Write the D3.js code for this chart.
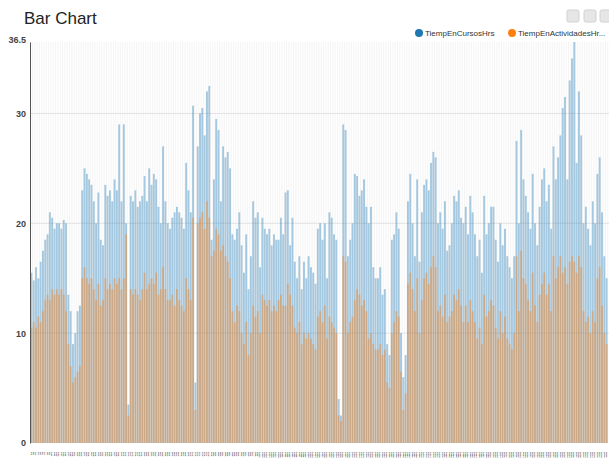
<!DOCTYPE html>
<html>
<head>
<meta charset="utf-8">
<script src="https://cdn.jsdelivr.net/npm/d3@7"></script>
<style>
  body { margin: 0; background: #fff; font-family: "Liberation Sans", Arial, sans-serif; }
</style>
</head>
<body>
<div class="chart-container"></div>
<script>
// values, 10 bars per row
const cursosHrs = [
  15.5, 14.8, 16, 15, 16.5, 17.5, 18.5, 19, 21, 20.5,
  19.5, 20, 20, 19.5, 20.3, 20, 13.5, 12, 9, 10,
  12, 12.5, 23, 25, 24.5, 24, 23.5, 22, 20, 22.8,
  18.5, 18, 23.5, 22.5, 23, 22, 24, 23, 29, 22,
  29, 20, 3.5, 22.5, 22, 23, 21.5, 22, 22.5, 24.3,
  22, 25, 23.5, 24.5, 24, 21.5, 20, 27, 22, 20,
  19.5, 20.5, 21, 21.5, 21, 20.5, 19.5, 25.5, 23, 21,
  30.7, 5.5, 27, 30, 30.5, 28, 32, 32.5, 18.5, 24,
  29.5, 28.5, 22, 27, 26, 26.5, 25, 19, 18.5, 19.5,
  21, 18, 15.5, 19, 14, 17, 22, 20.5, 21, 16,
  20.5, 19.5, 19, 19.5, 18, 19, 18.5, 18.5, 20.5, 19,
  22.8, 23, 18, 20.5, 16.5, 15, 17, 14, 16.5, 15,
  17, 16, 15.5, 14.5, 19.5, 20, 18.5, 20, 15, 21,
  20.5, 19, 18.5, 4, 2.5, 29, 28.5, 17, 18.5, 20,
  24.5, 24.3, 22.5, 23, 24, 21.5, 20, 21.5, 16, 15,
  15, 16, 13.5, 14, 9, 8, 18.5, 19, 21, 19.5,
  10, 6, 8, 22, 24.5, 20, 17, 24, 16.5, 21,
  23.5, 24, 23, 25.5, 26.5, 26, 20, 21, 19.5, 22,
  17.5, 18, 20, 22.5, 22, 23, 20.5, 20, 21.5, 19,
  22.5, 21, 19, 17, 18.5, 15.5, 22.5, 19, 20, 21.5,
  21.5, 18.5, 16.5, 20, 18, 19.5, 17, 16, 15, 17,
  27.5, 20, 28.5, 24, 22.5, 21, 19.5, 24.5, 20, 18,
  21.5, 24, 25, 22, 23.5, 19.5, 27, 24, 26, 28,
  30.5, 31.5, 24, 33, 35, 36.5, 25.5, 32, 28, 20,
  21.5, 19.5, 18, 22, 20, 24.5, 26, 21, 17, 15
];

const actividadesHrs = [
  10.5, 11, 10.5, 11.5, 11, 12, 13, 13.5, 13, 14,
  13.5, 14, 13.5, 14, 13.5, 12, 9, 7, 5.5, 6,
  6.5, 7, 15, 16, 15, 14.5, 15, 14, 13, 14.5,
  12.5, 13, 15, 14, 14.5, 14, 15, 14.5, 15, 14,
  15, 19, 2.5, 14, 13.5, 14, 13.5, 13, 14, 15.5,
  14, 14.5, 15, 14.5, 15.5, 13.5, 14, 16, 14, 13,
  13, 13.5, 12.5, 14, 13, 12.5, 12, 15, 14, 13,
  20.5, 3, 20, 20.5, 21, 19.5, 22, 20.5, 17, 17.5,
  19.5, 19, 17.5, 18, 17, 16.5, 15, 12, 11, 12.5,
  12, 10, 9, 11, 8, 10, 12.5, 11.5, 12, 10,
  13.5, 13, 12.5, 13, 12, 12.5, 12, 13, 13.5, 12.5,
  12.5, 14.5, 13.5, 12.5, 10.5, 10, 11, 9, 10, 9.5,
  10, 9.5, 9, 8.5, 11.5, 12, 11, 12.5, 9.5, 11.5,
  11, 10.5, 10, 2.5, 2, 17, 16.5, 10, 11, 11.5,
  13, 14, 13.5, 12.5, 13, 12, 9.5, 10, 9, 8.5,
  8.5, 9, 8, 8.5, 5.5, 5, 10, 11, 12, 11.5,
  6.5, 3, 4.5, 14.5, 15.5, 14, 12, 15, 10, 13,
  15, 15.5, 14.5, 16, 17, 16, 12, 12.5, 11.5, 13.5,
  11, 11.5, 12, 13.5, 13, 14, 12.5, 11, 12.5, 11,
  13, 12, 11, 9.5, 10.5, 9, 13.5, 11.5, 12, 13,
  12.5, 10.5, 9.5, 12, 10, 11.5, 9.5, 9, 8.5, 10,
  17, 12, 17.5, 15, 14.5, 13, 12, 15.5, 12.5, 11,
  13.5, 14.5, 15.5, 13.5, 14.5, 12, 17, 15, 16, 17,
  15.5, 16, 14.5, 16.5, 17, 16.5, 15.5, 17, 16, 12,
  11, 11.5, 10, 12, 11, 15, 16, 12.5, 10, 9
];

const categories = cursosHrs.map((d, i) => 'E' + (i + 1));
const seriesNames = ['TiempEnCursosHrs', 'TiempEnActividadesHr...'];
const seriesColors = ['#1f77b4', '#ff7f0e'];
const yTicks = [0, 10, 20, 30, 36.5];

const width = 609;
const height = 461;
const margin = { top: 42, right: 1, bottom: 18, left: 30 };

const svg = d3.select('.chart-container')
  .append('svg')
  .attr('width', width)
  .attr('height', height);

svg.append('text')
  .attr('x', 24)
  .attr('y', 24)
  .attr('font-size', 17)
  .attr('fill', '#222')
  .text('Bar Chart');

// window buttons top right
[573, 590, 606].forEach(x => {
  svg.append('rect')
    .attr('x', x - 6).attr('y', 10)
    .attr('width', 12).attr('height', 12)
    .attr('rx', 2)
    .attr('fill', '#e6e6e6')
    .attr('stroke', '#d0d0d0');
});

const x = d3.scaleBand()
  .domain(categories)
  .range([margin.left, width - margin.right])
  .padding(0.2);

const y = d3.scaleLinear()
  .domain([0, 36.5])
  .range([height - margin.bottom, margin.top]);

const g = svg.append('g');

// vertical grid per category
g.selectAll('.vgrid')
  .data(categories)
  .enter()
  .append('line')
  .attr('x1', d => x(d) + x.bandwidth() + x.step() * 0.1)
  .attr('x2', d => x(d) + x.bandwidth() + x.step() * 0.1)
  .attr('y1', y(36.5))
  .attr('y2', y(0))
  .attr('stroke', '#ececec')
  .attr('stroke-width', 0.6);

g.selectAll('.hgrid')
  .data(yTicks.filter(t => t > 0 && t < 36.5))
  .enter()
  .append('line')
  .attr('x1', margin.left)
  .attr('x2', width)
  .attr('y1', d => y(d))
  .attr('y2', d => y(d))
  .attr('stroke', '#e2e2e2');

// bars, overlapping
g.selectAll('.bar-cursos')
  .data(cursosHrs)
  .enter()
  .append('rect')
  .attr('x', (d, i) => x(categories[i]))
  .attr('width', x.bandwidth())
  .attr('y', d => y(d))
  .attr('height', d => y(0) - y(d))
  .attr('fill', seriesColors[0])
  .attr('fill-opacity', 0.4);

g.selectAll('.bar-act')
  .data(actividadesHrs)
  .enter()
  .append('rect')
  .attr('x', (d, i) => x(categories[i]))
  .attr('width', x.bandwidth())
  .attr('y', d => y(d))
  .attr('height', d => y(0) - y(d))
  .attr('fill', seriesColors[1])
  .attr('fill-opacity', 0.42);

// y axis
const yAxis = svg.append('g')
  .attr('transform', `translate(${margin.left},0)`)
  .call(d3.axisLeft(y).tickValues(yTicks).tickSize(0).tickPadding(4).tickFormat(d => d));
yAxis.select('.domain').attr('stroke', '#555');
yAxis.selectAll('text')
  .attr('font-size', 9)
  .attr('font-weight', 'bold')
  .attr('fill', '#444')
  .attr('font-family', '"Liberation Sans", Arial, sans-serif');
yAxis.select('.tick:last-of-type text').attr('dy', '0.1em');

// x labels, rotated and tiny so they read as a dense band
svg.append('g')
  .selectAll('text')
  .data(categories)
  .enter()
  .append('text')
  .attr('transform', d => `translate(${x(d) + x.bandwidth() / 2 - 0.8},452) rotate(90)`)
  .attr('font-size', 2.4)
  .attr('font-weight', 'bold')
  .attr('fill', '#333')
  .text(d => d);

// legend
const legend = svg.append('g');
const legendX = [419, 512];
seriesNames.forEach((name, i) => {
  legend.append('circle')
    .attr('cx', legendX[i])
    .attr('cy', 33)
    .attr('r', 4)
    .attr('fill', seriesColors[i]);
  legend.append('text')
    .attr('x', legendX[i] + 6)
    .attr('y', 36)
    .attr('font-size', 8)
    .attr('fill', '#333')
    .text(name);
});
</script>
</body>
</html>
